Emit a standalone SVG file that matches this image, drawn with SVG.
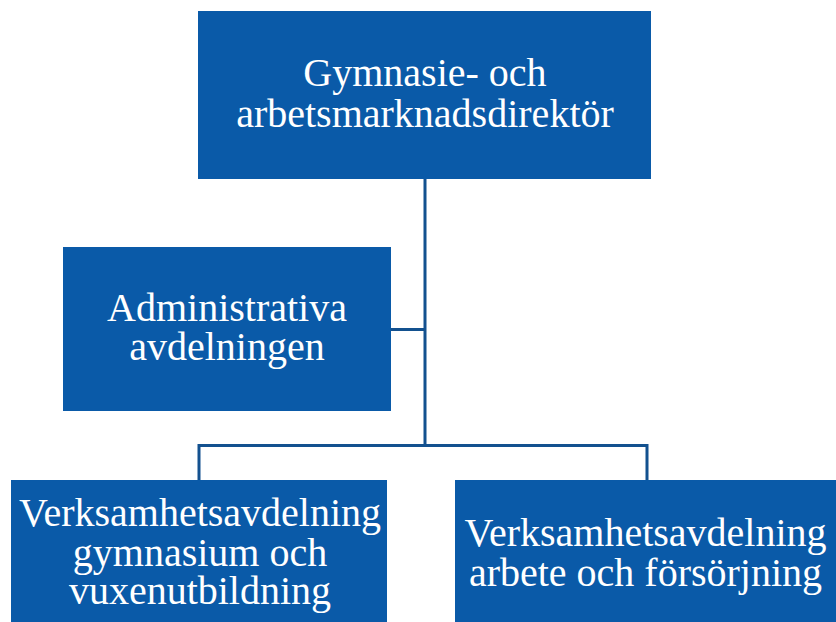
<svg xmlns="http://www.w3.org/2000/svg" width="836" height="622" viewBox="0 0 836 622">
<style>
.box{fill:#0A5AA8}
.t{fill:#ffffff;font-family:"Liberation Serif","Times New Roman",serif;font-size:40px;text-anchor:middle}
.c{fill:none;stroke:#13518F;stroke-width:3}
</style>
<rect width="836" height="622" fill="#ffffff"/>
<g id="connectors">
<line class="c" x1="425" y1="179" x2="425" y2="445.5"/>
<line class="c" x1="391" y1="329.5" x2="425" y2="329.5"/>
<polyline class="c" points="199,480 199,445.5 647,445.5 647,480"/>
</g>
<g id="director">
<rect class="box" x="198" y="11" width="453" height="168"/>
<text class="t" x="425" y="86">Gymnasie- och</text>
<text class="t" x="425" y="127">arbetsmarknadsdirektör</text>
</g>
<g id="admin">
<rect class="box" x="63" y="247" width="328" height="164"/>
<text class="t" x="227" y="321">Administrativa</text>
<text class="t" x="227" y="360">avdelningen</text>
</g>
<g id="gymnasium">
<rect class="box" x="11" y="480" width="376" height="142"/>
<text class="t" x="200" y="526">Verksamhetsavdelning</text>
<text class="t" x="200" y="566">gymnasium och</text>
<text class="t" x="200" y="604">vuxenutbildning</text>
</g>
<g id="arbete">
<rect class="box" x="455" y="480" width="381" height="142"/>
<text class="t" x="645.5" y="546">Verksamhetsavdelning</text>
<text class="t" x="645.5" y="586">arbete och försörjning</text>
</g>
</svg>
